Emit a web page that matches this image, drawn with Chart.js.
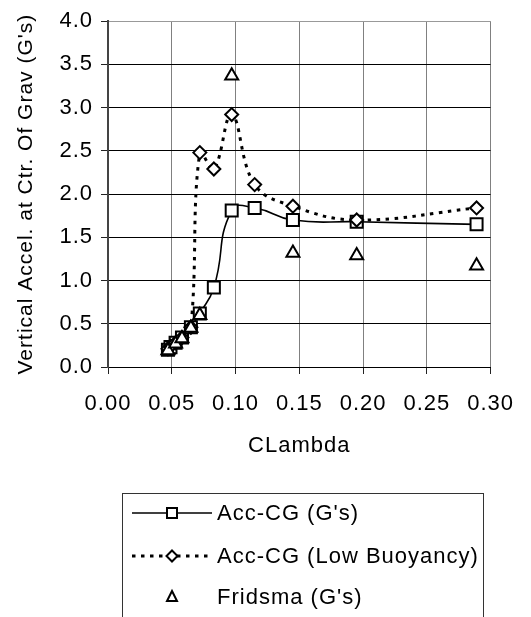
<!DOCTYPE html>
<html>
<head>
<meta charset="utf-8">
<script src="https://cdn.jsdelivr.net/npm/chart.js@4/dist/chart.umd.min.js"></script>
<style>
  html, body { margin: 0; padding: 0; background: #fff; }
  #wrap { width: 531px; height: 617px; }
</style>
</head>
<body>
<div id="wrap"><canvas id="c" width="531" height="617"></canvas></div>
<script>
// CLambda values and vertical acceleration at the centre of gravity (G's)
const accCgX = [0.047, 0.049, 0.053, 0.058, 0.065, 0.072, 0.083, 0.097, 0.115, 0.145, 0.195, 0.289];
const accCgY = [0.20, 0.23, 0.28, 0.34, 0.46, 0.62, 0.92, 1.81, 1.84, 1.70, 1.68, 1.65];

const lowBuoyX = [0.047, 0.049, 0.053, 0.058, 0.065, 0.072, 0.083, 0.097, 0.115, 0.145, 0.195, 0.289];
const lowBuoyY = [0.21, 0.24, 0.28, 0.34, 0.46, 2.48, 2.29, 2.92, 2.11, 1.86, 1.70, 1.84];

const fridsmaX = [0.047, 0.053, 0.058, 0.065, 0.072, 0.097, 0.145, 0.195, 0.289];
const fridsmaY = [0.19, 0.27, 0.33, 0.45, 0.60, 3.37, 1.32, 1.29, 1.17];

const seriesLabels = ['Acc-CG (G\'s)', 'Acc-CG (Low Buoyancy)', 'Fridsma (G\'s)'];

const xTickValues = [0.00, 0.05, 0.10, 0.15, 0.20, 0.25, 0.30];
const yTickValues = [0.0, 0.5, 1.0, 1.5, 2.0, 2.5, 3.0, 3.5, 4.0];

const axisTitleX = 'CLambda';
const axisTitleY = 'Vertical Accel. at Ctr. Of Grav (G\'s)';

const toPoints = (xs, ys) => xs.map((x, i) => ({ x: x, y: ys[i] }));

const FONT = "'Liberation Sans', Arial, sans-serif";
const FONT_SIZE = 22;

// Slightly open letter spacing for all canvas text
const textSpacing = {
  id: 'textSpacing',
  beforeLayout(chart) { chart.ctx.letterSpacing = '1px'; },
  beforeDraw(chart) { chart.ctx.letterSpacing = '1px'; }
};

// Boxed legend below the plot: line sample, marker, then the series name
const boxLegend = {
  id: 'boxLegend',
  afterDraw(chart) {
    const ctx = chart.ctx;
    ctx.save();
    ctx.letterSpacing = '1px';
    ctx.strokeStyle = '#333';
    ctx.lineWidth = 1;
    ctx.strokeRect(122.5, 493.5, 361, 160);

    const rows = [513, 556, 597];
    const mx = 172;
    ctx.font = FONT_SIZE + 'px ' + FONT;
    ctx.fillStyle = '#000';
    ctx.textAlign = 'left';
    ctx.textBaseline = 'middle';

    // solid line + square
    ctx.strokeStyle = '#000';
    ctx.lineWidth = 1.5;
    ctx.beginPath();
    ctx.moveTo(132, rows[0]); ctx.lineTo(212, rows[0]);
    ctx.stroke();
    ctx.fillStyle = '#fff';
    ctx.fillRect(mx - 5, rows[0] - 5, 10, 10);
    ctx.lineWidth = 2;
    ctx.strokeRect(mx - 5, rows[0] - 5, 10, 10);

    // dotted line + diamond
    ctx.lineWidth = 3;
    ctx.setLineDash([3.5, 5.5]);
    ctx.beginPath();
    ctx.moveTo(132, rows[1]); ctx.lineTo(212, rows[1]);
    ctx.stroke();
    ctx.setLineDash([]);
    ctx.lineWidth = 2;
    ctx.beginPath();
    ctx.moveTo(mx, rows[1] - 5.5); ctx.lineTo(mx + 5.5, rows[1]);
    ctx.lineTo(mx, rows[1] + 5.5); ctx.lineTo(mx - 5.5, rows[1]);
    ctx.closePath();
    ctx.fill(); ctx.stroke();

    // triangle marker only
    ctx.beginPath();
    ctx.moveTo(mx, rows[2] - 6); ctx.lineTo(mx + 5, rows[2] + 4);
    ctx.lineTo(mx - 5, rows[2] + 4);
    ctx.closePath();
    ctx.fill(); ctx.stroke();

    ctx.fillStyle = '#000';
    chart.data.datasets.forEach((ds, i) => {
      ctx.fillText(ds.label, 217, rows[i] + 1);
    });
    ctx.restore();
  }
};

const markerCommon = {
  borderColor: '#000',
  backgroundColor: '#fff',
  pointBackgroundColor: '#fff',
  pointBorderColor: '#000',
  pointBorderWidth: 2,
  pointHoverRadius: 7
};

new Chart(document.getElementById('c'), {
  type: 'scatter',
  data: {
    datasets: [
      Object.assign({}, markerCommon, {
        label: seriesLabels[0],
        data: toPoints(accCgX, accCgY),
        showLine: true,
        borderWidth: 1.6,
        tension: 0.5,
        pointStyle: 'rect',
        pointRadius: 8.5,
        order: 2
      }),
      Object.assign({}, markerCommon, {
        label: seriesLabels[1],
        data: toPoints(lowBuoyX, lowBuoyY),
        showLine: true,
        borderWidth: 3,
        borderDash: [3.5, 5.5],
        tension: 0.4,
        pointStyle: 'rectRot',
        pointRadius: 6.5,
        order: 1
      }),
      Object.assign({}, markerCommon, {
        label: seriesLabels[2],
        data: toPoints(fridsmaX, fridsmaY),
        showLine: false,
        pointStyle: 'triangle',
        pointRadius: 7.5,
        order: 0
      })
    ]
  },
  options: {
    responsive: false,
    animation: false,
    layout: { padding: { left: 0, right: 33, top: 19, bottom: 158 } },
    plugins: {
      legend: { display: false },
      tooltip: { enabled: false }
    },
    scales: {
      x: {
        type: 'linear',
        min: 0,
        max: 0.3,
        afterFit(scale) { scale.height = 92; },
        afterBuildTicks(scale) { scale.ticks = xTickValues.map(v => ({ value: v })); },
        ticks: {
          color: '#000',
          padding: 17,
          font: { family: FONT, size: FONT_SIZE },
          callback: (v) => Number(v).toFixed(2)
        },
        grid: {
          color: '#808080',
          lineWidth: 1,
          tickLength: 7,
          tickColor: '#222'
        },
        border: { color: '#000', width: 1 },
        title: {
          display: true,
          text: axisTitleX,
          color: '#000',
          padding: { top: 0, bottom: 0 },
          font: { family: FONT, size: FONT_SIZE }
        }
      },
      y: {
        type: 'linear',
        min: 0,
        max: 4,
        afterFit(scale) { scale.width = 108; },
        afterBuildTicks(scale) { scale.ticks = yTickValues.map(v => ({ value: v })); },
        ticks: {
          color: '#000',
          padding: 8,
          font: { family: FONT, size: FONT_SIZE },
          callback: (v) => Number(v).toFixed(1)
        },
        grid: {
          color: (c) => (c.tick && c.tick.value === 4 ? '#999' : '#000'),
          lineWidth: 1,
          tickLength: 7,
          tickColor: '#222'
        },
        border: { color: '#444', width: 2 },
        title: {
          display: true,
          text: axisTitleY,
          color: '#000',
          padding: { top: 14, bottom: 0 },
          font: { family: FONT, size: 21 }
        }
      }
    }
  },
  plugins: [textSpacing, boxLegend]
});
</script>
</body>
</html>
